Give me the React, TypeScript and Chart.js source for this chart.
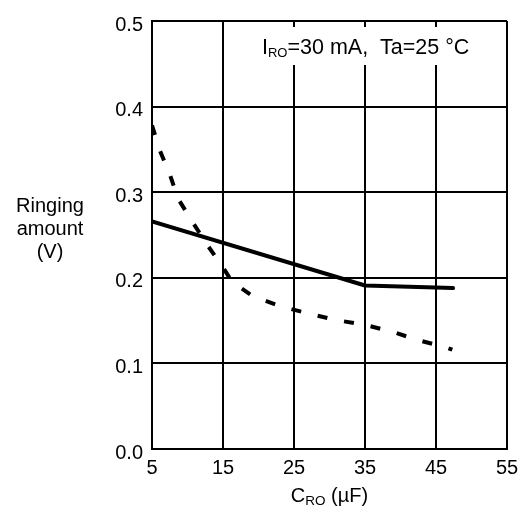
import React, { useEffect, useRef } from "react";
import { Chart, registerables } from "chart.js";

Chart.register(...registerables);

const xTickValues = [5, 15, 25, 35, 45, 55];
const yTickValues = [0, 0.1, 0.2, 0.3, 0.4, 0.5];

const solidX = [5, 35, 47.4];
const solidY = [0.266, 0.191, 0.188];

const dashedX = [5, 6.1, 7.5, 8.7, 10.8, 12.9, 15, 16.3, 19.2, 23, 27.2, 30.7, 35, 39, 42.6, 46.3, 47.3];
const dashedY = [0.378, 0.349, 0.321, 0.292, 0.264, 0.237, 0.212, 0.195, 0.1785, 0.167, 0.158, 0.151, 0.145, 0.1365, 0.127, 0.119, 0.116];

const yTitleLines = ["Ringing", "amount", "(V)"];
const xTitleMain = "C";
const xTitleSub = "RO";
const xTitleRest = " (\u00b5F)";
const noteMain = "I";
const noteSub = "RO";
const noteRest = "=30 mA,  Ta=25 \u00b0C";

const FONT = '"Liberation Sans", Arial, Helvetica, sans-serif';

const textPlugin = {
  id: "textPlugin",
  afterDraw(chart: any) {
    const ctx = chart.ctx as CanvasRenderingContext2D;
    const area = chart.chartArea;
    ctx.save();
    ctx.fillStyle = "#000";
    // Y title (horizontal, three lines)
    ctx.font = `20px ${FONT}`;
    ctx.textAlign = "center";
    ctx.textBaseline = "alphabetic";
    const cx = 50;
    const baseY = 212;
    yTitleLines.forEach((t, i) => ctx.fillText(t, cx, baseY + i * 23));

    // X title with subscript
    ctx.textAlign = "left";
    const mainF = `20px ${FONT}`;
    const subF = `13.5px ${FONT}`;
    ctx.font = mainF;
    const w1 = ctx.measureText(xTitleMain).width;
    const w3 = ctx.measureText(xTitleRest).width;
    ctx.font = subF;
    const w2 = ctx.measureText(xTitleSub).width;
    const total = w1 + w2 + w3;
    let x = (area.left + area.right) / 2 - total / 2;
    const by = 502;
    ctx.font = mainF;
    ctx.fillText(xTitleMain, x, by);
    x += w1;
    ctx.font = subF;
    ctx.fillText(xTitleSub, x, by + 3);
    x += w2;
    ctx.font = mainF;
    ctx.fillText(xTitleRest, x, by);

    // Annotation with white box
    const noteF = `21.5px ${FONT}`;
    const noteSubF = `13px ${FONT}`;
    ctx.fillStyle = "#fff";
    ctx.fillRect(256, 27, 228, 38);
    ctx.fillStyle = "#000";
    let nx = 262;
    const nby = 54;
    ctx.font = noteF;
    ctx.fillText(noteMain, nx, nby);
    nx += ctx.measureText(noteMain).width;
    ctx.font = noteSubF;
    ctx.fillText(noteSub, nx, nby + 3);
    nx += ctx.measureText(noteSub).width;
    ctx.font = noteF;
    ctx.fillText(noteRest, nx, nby);
    ctx.restore();
  },
};

export default function App() {
  const ref = useRef<HTMLCanvasElement | null>(null);
  useEffect(() => {
    if (!ref.current) return;
    const chart = new Chart(ref.current, {
      type: "line",
      data: {
        datasets: [
          {
            data: solidX.map((x, i) => ({ x, y: solidY[i] })),
            borderColor: "#000",
            borderWidth: 4,
            pointRadius: 0,
            tension: 0,
            borderCapStyle: "round",
            borderJoinStyle: "round",
            fill: false,
          },
          {
            data: dashedX.map((x, i) => ({ x, y: dashedY[i] })),
            borderColor: "#000",
            borderWidth: 4,
            borderDash: [10, 17],
            pointRadius: 0,
            tension: 0,
            borderCapStyle: "butt",
            fill: false,
          },
        ],
      },
      options: {
        animation: false,
        responsive: false,
        devicePixelRatio: 1,
        layout: { padding: { top: 15, right: 25, left: 0, bottom: 0 } },
        plugins: { legend: { display: false }, tooltip: { enabled: false } },
        scales: {
          x: {
            type: "linear",
            min: 5,
            max: 55,
            afterBuildTicks: (s: any) => {
              s.ticks = xTickValues.map((v) => ({ value: v }));
            },
            afterFit: (s: any) => {
              s.height = 65;
            },
            grid: { color: "#000", lineWidth: 2, drawTicks: false },
            border: { color: "#000", width: 2 },
            ticks: {
              color: "#000",
              font: { family: FONT, size: 20 },
              padding: 7,
              maxRotation: 0,
              autoSkip: false,
              callback: (v: any) => String(v),
            },
          },
          y: {
            type: "linear",
            min: 0,
            max: 0.5,
            afterBuildTicks: (s: any) => {
              s.ticks = yTickValues.map((v) => ({ value: v }));
            },
            afterFit: (s: any) => {
              s.width = 152;
            },
            grid: { color: "#000", lineWidth: 2, drawTicks: false },
            border: { color: "#000", width: 2 },
            ticks: {
              color: "#000",
              font: { family: FONT, size: 20 },
              padding: 9,
              labelOffset: 4,
              autoSkip: false,
              callback: (v: any) => Number(v).toFixed(1),
            },
          },
        },
      },
      plugins: [textPlugin],
    } as any);
    return () => chart.destroy();
  }, []);
  return (
    <div style={{ position: "fixed", left: 0, top: 0, width: 532, height: 514, background: "#fff" }}>
      <canvas ref={ref} width={532} height={514} />
    </div>
  );
}
